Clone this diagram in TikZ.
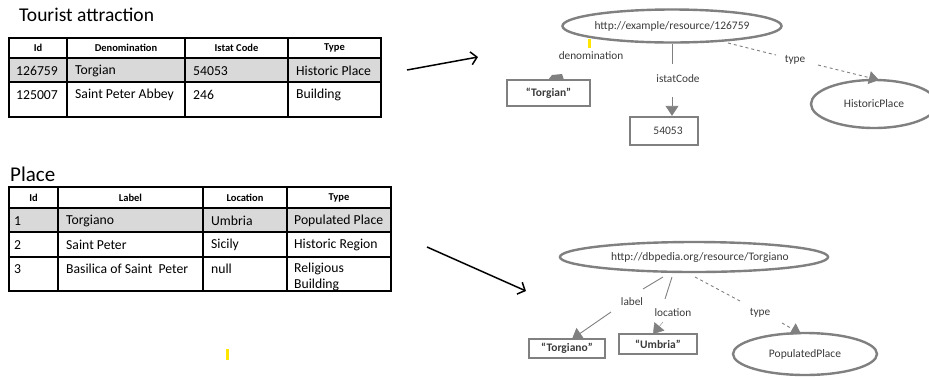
\documentclass[tikz,border=0pt]{standalone}
\usepackage{fontspec}
\setmainfont{Carlito}
\usetikzlibrary{arrows.meta,shapes.geometric}
\definecolor{rowgray}{HTML}{D9D9D9}
\definecolor{edgegray}{HTML}{808080}
\definecolor{txtgray}{HTML}{3A3A3A}
\definecolor{markyellow}{HTML}{FFE600}
\tikzset{
  ttl/.style={font=\fontsize{19.5}{22}\selectfont, anchor=west, inner sep=0pt},
  hdr/.style={font=\bfseries\fontsize{10.5}{12}\selectfont, inner sep=0pt},
  cell/.style={font=\fontsize{13.7}{16}\selectfont, anchor=west, inner sep=0pt},
  tline/.style={line width=1.6pt, black},
  res/.style={ellipse, draw=edgegray, line width=2.4pt, inner sep=0pt, text=txtgray, font=\fontsize{11.5}{13}\selectfont},
  lit/.style={rectangle, draw=edgegray, line width=2.4pt, inner sep=0pt, text=txtgray, font=\fontsize{11.5}{13}\selectfont},
  elabel/.style={inner sep=0pt, text=txtgray, font=\fontsize{11.3}{13}\selectfont},
  edgeline/.style={draw=edgegray, line width=0.9pt},
  dashedge/.style={draw=edgegray, line width=0.9pt, dashed},
  tipped/.style={-{Triangle[width=13pt,length=10pt]}, edgegray},
  bigarrow/.style={line width=1.5pt, -{Straight Barb[length=6pt,width=13pt]}},
}
\begin{document}
\begin{tikzpicture}[x=1pt,y=-1pt]
\useasboundingbox (0,0) rectangle (929,376);
\begin{scope}
\clip (0,0) rectangle (929,376);

% ---------- Table 1 ----------
\node[ttl] (title1) at (19,15) {Tourist attraction};
\fill[rowgray] (9,58) rectangle (381,82);
\draw[tline] (9,38) rectangle (381,117);
\draw[tline] (9,58) -- (381,58) (9,82) -- (381,82);
\draw[tline] (67,38) -- (67,117) (185,38) -- (185,117) (288,38) -- (288,117);
\node[hdr] (a00) at (38,48) {Id};
\node[hdr] (a01) at (126,48) {Denomination};
\node[hdr] (a02) at (236.5,48) {Istat Code};
\node[hdr] (a03) at (334.5,48) {Type};
\node[cell] (a10) at (16,71) {126759};
\node[cell] (a11) at (75,71) {Torgian};
\node[cell] (a12) at (193,71) {54053};
\node[cell] (a13) at (296,71) {Historic Place};
\node[cell] (a20) at (16,95) {125007};
\node[cell] (a21) at (75,95) {Saint Peter Abbey};
\node[cell] (a22) at (193,95) {246};
\node[cell] (a23) at (296,95) {Building};

% ---------- Table 2 ----------
\node[ttl, font=\fontsize{21}{24}\selectfont] (title2) at (10,174) {Place};
\fill[rowgray] (9,208) rectangle (391,232);
\draw[tline] (9,187) rectangle (391,291);
\draw[tline] (9,208) -- (391,208) (9,232) -- (391,232) (9,257) -- (391,257);
\draw[tline] (58,187) -- (58,291) (203,187) -- (203,291) (287,187) -- (287,291);
\node[hdr] (b00) at (33.5,198) {Id};
\node[hdr] (b01) at (130.5,198) {Label};
\node[hdr] (b02) at (245,198) {Location};
\node[hdr] (b03) at (339,198) {Type};
\node[cell] (b10) at (14,221) {1};
\node[cell] (b11) at (66,221) {Torgiano};
\node[cell] (b12) at (211,221) {Umbria};
\node[cell] (b13) at (294,221) {Populated Place};
\node[cell] (b20) at (14,245) {2};
\node[cell] (b21) at (66,245) {Saint Peter};
\node[cell] (b22) at (211,245) {Sicily};
\node[cell] (b23) at (294,245) {Historic Region};
\node[cell] (b30) at (14,269) {3};
\node[cell] (b31) at (66,269) {Basilica of Saint\ \ Peter};
\node[cell] (b32) at (211,269) {null};
\node[cell] (b33) at (294,269) {Religious};
\node[cell] (b34) at (294,285) {Building};

% ---------- big arrows ----------
\coordinate (a1s) at (407,70);
\coordinate (a1e) at (478,57);
\draw[bigarrow] (a1s) -- (a1e);
\coordinate (a2s) at (427,247);
\coordinate (a2e) at (526,291);
\draw[bigarrow] (a2s) -- (a2e);

% ---------- Graph 1 ----------
\node[res, minimum width=219pt, minimum height=33pt] (r1) at (672,26) {http://example/resource/126759};
\fill[markyellow] (587.5,39) rectangle (590.5,48);
\node[elabel] (denom) at (591,56) {denomination};
\node[lit, minimum width=83pt, minimum height=26pt] (torgian) at (548.5,93) {\bfseries “Torgian”};
\fill[edgegray] (548,80) -- (552,75) -- (562,74) -- (564,80) -- cycle;
\node[elabel] (istat) at (678,79) {istatCode};
\node[lit, minimum width=68pt, minimum height=28pt] (v54053) at (664,131) {\hspace*{8pt}54053};
\coordinate (i1) at (672,64);
\draw[edgeline] (r1.south) -- (i1);
\coordinate (i2) at (672,97);
\draw[edgeline, tipped] (i2) -- (v54053.north -| i2);
\node[elabel] (type1) at (795,60) {type};
\node[res, minimum width=126pt, minimum height=48pt] (hp) at (874,104) {HistoricPlace};
\coordinate (t1a) at (728,43);
\coordinate (t1b) at (776,55);
\coordinate (t1c) at (818,65);
\coordinate (t1d) at (879,80);
\draw[dashedge] (t1a) -- (t1b);
\draw[dashedge, tipped] (t1c) -- (t1d);

% ---------- Graph 2 ----------
\node[res, minimum width=202pt, minimum height=30pt] (r2) at (694,257) {\hspace*{12pt}http://dbpedia.org/resource/Torgiano};
\node[elabel] (lab) at (632,302) {label};
\node[elabel] (loc) at (673,313) {location};
\node[elabel] (type2) at (760,313) {type};
\node[lit, minimum width=76pt, minimum height=19pt] (torgiano) at (567,348.5) {\bfseries “Torgiano”};
\node[lit, minimum width=78pt, minimum height=20pt] (umbria) at (658,344) {\bfseries “Umbria”};
\node[res, minimum width=144pt, minimum height=42pt] (pp) at (805,354) {PopulatedPlace};
\coordinate (l1) at (663,277);
\coordinate (l2) at (643,289);
\coordinate (l3) at (611,312);
\coordinate (l4) at (572,339);
\draw[edgeline] (l1) -- (l2);
\draw[edgeline, tipped] (l3) -- (l4);
\coordinate (o1) at (672,277);
\coordinate (o2) at (665,299);
\coordinate (o3) at (663,322);
\coordinate (o4) at (653,334);
\draw[edgeline] (o1) -- (o2);
\draw[tipped] (o3) -- (o4);
\coordinate (p1) at (695,277);
\coordinate (p2) at (740,301);
\coordinate (p3) at (782,323);
\coordinate (p4) at (801,334);
\draw[dashedge] (p1) -- (p2);
\draw[dashedge, tipped] (p3) -- (p4);

\fill[markyellow] (226,349) rectangle (229,360);
\end{scope}
\end{tikzpicture}
\end{document}
